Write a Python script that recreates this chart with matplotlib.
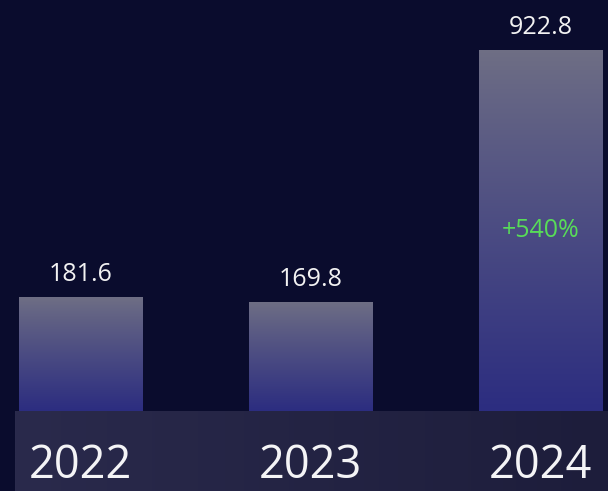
import numpy as np
import matplotlib
matplotlib.use("Agg")
import matplotlib.pyplot as plt
from matplotlib.colors import to_rgb

# データ
years = ["2022", "2023", "2024"]
values = [181.6, 169.8, 922.8]
value_labels = ["181.6", "169.8", "922.8"]
growth_label = "+540%"

plt.rcParams['font.family'] = ['Open Sans', 'DejaVu Sans']

P = 0.71  # 棒の高さを圧縮する指数スケール


def fwd(v):
    return np.power(np.clip(v, 0, None), P)


def inv(u):
    return np.power(np.clip(u, 0, None), 1 / P)


bg = '#0a0c2d'
fig = plt.figure(figsize=(6.08, 4.91), dpi=100, facecolor=bg)

# 下の年ラベルの帯
strip = fig.add_axes([15 / 608, 0, 1 - 15 / 608, 80 / 491])
c_left, c_right = np.array(to_rgb('#2a2a4c')), np.array(to_rgb('#1d1d3b'))
t = np.linspace(0, 1, 256)[None, :, None]
strip.imshow(c_left + (c_right - c_left) * t, extent=[0, 1, 0, 1], aspect='auto')
strip.set_xlim(0, 1)
strip.set_ylim(0, 1)
strip.axis('off')

ax = fig.add_axes([0, 80 / 491, 1, 411 / 491])
ax.set_facecolor('none')
ax.set_yscale('function', functions=(fwd, inv))
x = np.arange(len(years))
ax.set_xlim(-0.35, 2.293)
ax.set_ylim(0, max(values) * (411 / 361) ** (1 / P))
ax.set_autoscale_on(False)
ax.axis('off')

rects = ax.bar(x, values, width=0.535, color='none', edgecolor='none')

top_c = np.array(to_rgb('#6f6f85'))
bot_c = np.array(to_rgb('#2c2d80'))
s = np.linspace(0, 1, 256)[:, None, None] ** 0.9
grad = top_c + (bot_c - top_c) * s

for r, lab in zip(rects, value_labels):
    bb = r.get_bbox().transformed(ax.transData + ax.transAxes.inverted())
    im = ax.imshow(grad, extent=[bb.x0, bb.x1, bb.y0, bb.y1], origin='upper',
                   transform=ax.transAxes, aspect='auto', zorder=2)
    im.set_clip_path(r)
    ax.annotate(lab, (r.get_x() + r.get_width() / 2, r.get_height()),
                xytext=(0, 16.5), textcoords='offset points',
                ha='center', va='center', color='#f2f2f2', fontsize=18)

ax.annotate(growth_label, (0.5, 0.5), xycoords=rects[2], ha='center', va='center',
            color='#58dc58', fontsize=18, zorder=3)

for xi, yr in zip(x, years):
    fig.text(ax.transData.transform((xi, 0))[0] / fig.dpi / 6.08, 25 / 491, yr,
             ha='center', va='center', color='#f4f4f6', fontsize=32.5)

ax.set_ylim(0, max(values) * (411 / 361) ** (1 / P))
fig.savefig('out.png', dpi=100, facecolor=bg)
